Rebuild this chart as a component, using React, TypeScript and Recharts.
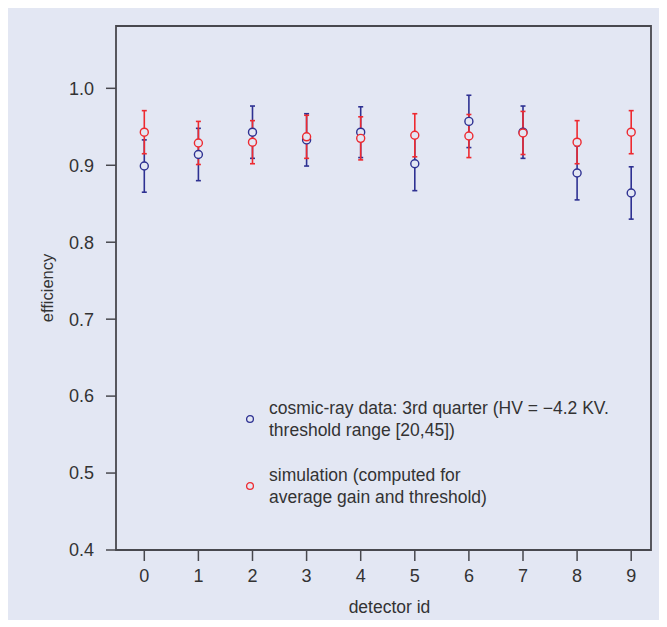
import React from "react";
import { ScatterChart, Scatter, XAxis, YAxis, ErrorBar, ReferenceArea, Legend, Label } from "recharts";

// detector ids and read-off efficiencies
const detectorIds = [0, 1, 2, 3, 4, 5, 6, 7, 8, 9];
const cosmicEff = [0.899, 0.914, 0.943, 0.933, 0.943, 0.902, 0.957, 0.943, 0.89, 0.864];
const cosmicErr = [0.034, 0.034, 0.034, 0.034, 0.033, 0.035, 0.034, 0.034, 0.035, 0.034];
const simEff = [0.943, 0.929, 0.93, 0.937, 0.935, 0.939, 0.938, 0.942, 0.93, 0.943];
const simErr = [0.028, 0.028, 0.028, 0.028, 0.028, 0.028, 0.028, 0.028, 0.028, 0.028];
const yTicks = [0.4, 0.5, 0.6, 0.7, 0.8, 0.9, 1.0];

const BG = "#e3e7f3";
const BLUE = "#2e3192";
const RED = "#ee2a30";
const FRAME = "#48484e";
const TEXT = "#333333";
const FONT = '"Liberation Sans", Arial, sans-serif';

const X_DOMAIN: [number, number] = [-0.523, 9.366];
const Y_DOMAIN: [number, number] = [0.4, 1.081];

const cosmicData = detectorIds.map((id, i) => ({ id, eff: cosmicEff[i], err: cosmicErr[i] }));
const simData = detectorIds.map((id, i) => ({ id, eff: simEff[i], err: simErr[i] }));

const marker = (color: string) => (props: any) => (
  <circle cx={props.cx} cy={props.cy} r={4} fill={BG} stroke={color} strokeWidth={1.4} />
);

const legendItems = [
  { color: BLUE, lines: ["cosmic-ray data: 3rd quarter (HV = \u22124.2 KV.", "threshold range [20,45])"] },
  { color: RED, lines: ["simulation (computed for", "average gain and threshold)"] },
];

function renderLegend() {
  return (
    <div style={{ fontFamily: FONT, fontSize: 17.5, color: TEXT, lineHeight: "22px" }}>
      {legendItems.map((it, i) => (
        <div key={i} style={{ display: "flex", alignItems: "center", marginBottom: i === 0 ? 23 : 0 }}>
          <svg width={20} height={10} style={{ flex: "none", marginRight: 9 }}>
            <circle cx={10} cy={5} r={3.4} fill="none" stroke={it.color} strokeWidth={1.3} />
          </svg>
          <div>
            {it.lines.map((l, j) => (
              <div key={j} style={{ whiteSpace: "nowrap" }}>{l}</div>
            ))}
          </div>
        </div>
      ))}
    </div>
  );
}

export default function App() {
  return (
    <div style={{ width: 659, height: 612, background: BG }}>
      <ScatterChart width={659} height={612} margin={{ top: 18, right: 16, left: 38, bottom: 9 }}>
        <XAxis
          type="number"
          dataKey="id"
          domain={X_DOMAIN}
          ticks={detectorIds}
          allowDataOverflow
          axisLine={false}
          tickSize={11}
          tickMargin={8}
          tickLine={{ stroke: FRAME, strokeWidth: 1.5 }}
          tick={{ fill: TEXT, fontSize: 18, fontFamily: FONT }}
          height={61}
        >
          <Label
            content={({ viewBox }: any) => (
              <text
                x={viewBox.x + viewBox.width / 2 + 6}
                y={viewBox.y + 63}
                textAnchor="middle"
                fill={TEXT}
                fontSize={17.5}
                fontFamily={FONT}
              >
                detector id
              </text>
            )}
          />
        </XAxis>
        <YAxis
          type="number"
          dataKey="eff"
          domain={Y_DOMAIN}
          ticks={yTicks}
          allowDataOverflow
          axisLine={false}
          tickSize={10}
          tickMargin={12}
          tickLine={{ stroke: FRAME, strokeWidth: 1.5 }}
          tick={{ fill: TEXT, fontSize: 18, fontFamily: FONT }}
          tickFormatter={(v: number) => v.toFixed(1)}
          width={70}
        >
          <Label
            content={({ viewBox }: any) => {
              const cx = 45;
              const cy = viewBox.y + viewBox.height / 2;
              return (
                <text
                  x={cx}
                  y={cy}
                  transform={`rotate(-90 ${cx} ${cy})`}
                  textAnchor="middle"
                  fill={TEXT}
                  fontSize={16.5}
                  fontFamily={FONT}
                >
                  efficiency
                </text>
              );
            }}
          />
        </YAxis>
        <ReferenceArea
          x1={X_DOMAIN[0]}
          x2={X_DOMAIN[1]}
          y1={Y_DOMAIN[0]}
          y2={Y_DOMAIN[1]}
          fill="none"
          stroke={FRAME}
          strokeWidth={1.8}
          ifOverflow="visible"
        />
        <Scatter name="cosmic" data={cosmicData} shape={marker(BLUE)} isAnimationActive={false}>
          <ErrorBar dataKey="err" direction="y" width={2.5} stroke={BLUE} strokeWidth={1.6} isAnimationActive={false} />
        </Scatter>
        <Scatter name="sim" data={simData} shape={marker(RED)} isAnimationActive={false}>
          <ErrorBar dataKey="err" direction="y" width={2.5} stroke={RED} strokeWidth={1.6} isAnimationActive={false} />
        </Scatter>
        <Legend
          layout="vertical"
          align="center"
          verticalAlign="middle"
          content={renderLegend}
          wrapperStyle={{ left: 232, top: 389, width: 420, height: "auto" }}
        />
      </ScatterChart>
    </div>
  );
}
